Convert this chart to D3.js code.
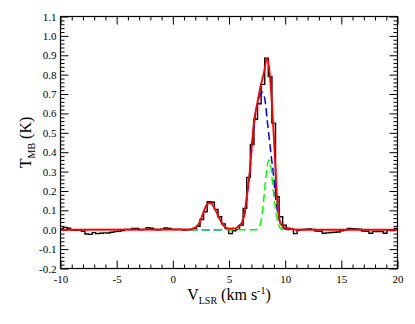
<!DOCTYPE html>
<html lang="en">
<head>
<meta charset="UTF-8">
<title>T_MB spectrum</title>
<script src="https://cdnjs.cloudflare.com/ajax/libs/d3/7.8.5/d3.min.js"></script>
<style>
    html, body { margin: 0; padding: 0; background: #fff; }
    svg text { font-family: "Liberation Serif", "Times New Roman", serif; fill: #000; }
</style>
</head>
<body>
<div id="chart"></div>
<script>
// observed spectrum: channel centres start at velStart, spaced by chanWidth (km/s)
const velStart = -9.9;
const chanWidth = 0.32;
const tmb = [
    0.005, 0.012, 0.008, 0.0, -0.003, -0.002, -0.008, -0.022, -0.024, -0.015,
    -0.02, -0.018, -0.016, -0.017, -0.013, -0.01, -0.008, -0.004, 0.002, 0.001,
    0.007, 0.006, 0.0, 0.002, 0.01, 0.008, 0.001, 0.0, 0.003, 0.009,
    0.007, 0.002, 0.001, 0.002, -0.001, 0.0, 0.002, 0.006, 0.018, 0.053,
    0.093, 0.144, 0.142, 0.105, 0.067, 0.03, 0.007, -0.02, -0.005, 0.002,
    0.024, 0.11, 0.27, 0.44, 0.57, 0.65, 0.75, 0.885, 0.79, 0.55,
    0.17, 0.067, 0.024, 0.008, 0.003, -0.02, -0.003, 0.001, 0.003, 0.004,
    0.002, -0.007, -0.008, -0.018, -0.016, -0.014, -0.013, -0.012, -0.005, 0.0,
    0.007, 0.005, 0.004, 0.003, -0.007, -0.008, -0.018, -0.01, -0.01, -0.009,
    -0.018, 0.0, -0.004, 0.007
];

// total fit (red) as [velocity, T]
const totalFit = [
    [-10, 0], [1.5, 0.001], [1.9, 0.008], [2.2, 0.022], [2.47, 0.05], [2.7, 0.085],
    [2.91, 0.118], [3.1, 0.134], [3.3, 0.139], [3.55, 0.127], [3.8, 0.10], [4.05, 0.07],
    [4.25, 0.046], [4.5, 0.022], [4.75, 0.01], [5.1, 0.005], [5.5, 0.007], [5.85, 0.016],
    [6.18, 0.04], [6.45, 0.11], [6.62, 0.19], [6.83, 0.29], [7.07, 0.46], [7.21, 0.55],
    [7.51, 0.65], [7.81, 0.74], [8.11, 0.81], [8.38, 0.885], [8.65, 0.79], [8.85, 0.62],
    [9.01, 0.46], [9.16, 0.29], [9.31, 0.13], [9.45, 0.065], [9.6, 0.032], [9.9, 0.013],
    [10.2, 0.005], [10.8, 0.001], [12, 0], [20, 0]
];

// broad component (blue dashed)
const broadComp = [
    [1.5, 0], [4.0, 0], [5.0, 0.004], [5.5, 0.01], [5.85, 0.02], [6.18, 0.04],
    [6.45, 0.1], [6.62, 0.18], [6.83, 0.28], [7.07, 0.45], [7.3, 0.57], [7.55, 0.65],
    [7.8, 0.70], [7.95, 0.71], [8.2, 0.67], [8.41, 0.56], [8.7, 0.41], [8.94, 0.29],
    [9.16, 0.16], [9.45, 0.055], [9.7, 0.018], [10.0, 0.004], [10.4, 0]
];

// narrow component (green dashed)
const narrowComp = [
    [1.5, 0], [7.4, 0], [7.7, 0.015], [7.95, 0.08], [8.15, 0.19], [8.3, 0.28],
    [8.45, 0.345], [8.55, 0.36], [8.7, 0.335], [8.85, 0.26], [9.0, 0.17], [9.15, 0.1],
    [9.3, 0.05], [9.5, 0.015], [9.7, 0.003], [10.3, 0]
];

const xTicks = [-10, -5, 0, 5, 10, 15, 20];
const yTicks = [-0.2, -0.1, 0.0, 0.1, 0.2, 0.3, 0.4, 0.5, 0.6, 0.7, 0.8, 0.9, 1.0, 1.1];

// layout
const margin = { top: 16.5, right: 17.5, bottom: 55.5, left: 60.5 };
const width = 415 - margin.left - margin.right;
const height = 324 - margin.top - margin.bottom;

const svg = d3.select("#chart")
    .append("svg")
    .attr("width", 415)
    .attr("height", 324);

const g = svg.append("g")
    .attr("transform", "translate(" + margin.left + "," + margin.top + ")");

const x = d3.scaleLinear().domain([-10, 20]).range([0, width]);
const y = d3.scaleLinear().domain([-0.2, 1.1]).range([height, 0]);

g.append("clipPath").attr("id", "plot-clip")
    .append("rect").attr("width", width).attr("height", height);

// minor ticks every 1 km/s and every 0.02 K
const xMinor = d3.range(-10, 20.001, 1).filter(v => v % 5 !== 0);
const yMinor = d3.range(0, 66).map(i => -0.2 + i * 0.02)
    .filter(v => Math.abs(v * 10 - Math.round(v * 10)) > 1e-6);

function styleAxis(sel) {
    sel.select(".domain").remove();
    sel.attr("font-family", null).attr("font-size", null);
    sel.selectAll("line").attr("stroke", "#000").attr("stroke-width", 1);
    sel.selectAll("text").style("font-size", "11px");
}

// bottom
g.append("g").attr("transform", "translate(0," + height + ")")
    .call(d3.axisBottom(x).tickValues(xTicks).tickSize(-8).tickPadding(7).tickFormat(d => String(d)))
    .call(styleAxis);
g.append("g").attr("transform", "translate(0," + height + ")")
    .call(d3.axisBottom(x).tickValues(xMinor).tickSize(-4).tickFormat(""))
    .call(styleAxis);
// top
g.append("g")
    .call(d3.axisTop(x).tickValues(xTicks).tickSize(-8).tickFormat(""))
    .call(styleAxis);
g.append("g")
    .call(d3.axisTop(x).tickValues(xMinor).tickSize(-4).tickFormat(""))
    .call(styleAxis);
// left
g.append("g")
    .call(d3.axisLeft(y).tickValues(yTicks).tickSize(-8).tickPadding(4).tickFormat(d => d.toFixed(1)))
    .call(styleAxis);
g.append("g")
    .call(d3.axisLeft(y).tickValues(yMinor).tickSize(-4).tickFormat(""))
    .call(styleAxis);
// right
g.append("g").attr("transform", "translate(" + width + ",0)")
    .call(d3.axisRight(y).tickValues(yTicks).tickSize(-8).tickFormat(""))
    .call(styleAxis);
g.append("g").attr("transform", "translate(" + width + ",0)")
    .call(d3.axisRight(y).tickValues(yMinor).tickSize(-4).tickFormat(""))
    .call(styleAxis);

const plot = g.append("g").attr("clip-path", "url(#plot-clip)");

// histogram steps from channel edges
const steps = tmb.map((t, i) => [velStart + i * chanWidth - chanWidth / 2, t]);
steps.push([velStart + (tmb.length - 1) * chanWidth + chanWidth / 2, tmb[tmb.length - 1]]);

const stepLine = d3.line().x(d => x(d[0])).y(d => y(d[1])).curve(d3.curveStepAfter);
const smoothLine = d3.line().x(d => x(d[0])).y(d => y(d[1])).curve(d3.curveMonotoneX);

plot.append("path").datum(steps)
    .attr("d", stepLine)
    .attr("fill", "none").attr("stroke", "#000").attr("stroke-width", 1.4);

plot.append("path").datum(broadComp)
    .attr("d", smoothLine)
    .attr("fill", "none").attr("stroke", "#0000ff").attr("stroke-width", 1.5)
    .attr("stroke-dasharray", "8,4");

plot.append("path").datum(narrowComp)
    .attr("d", smoothLine)
    .attr("fill", "none").attr("stroke", "#00ff00").attr("stroke-width", 1.5)
    .attr("stroke-dasharray", "8,4");

plot.append("path").datum(totalFit)
    .attr("d", smoothLine)
    .attr("fill", "none").attr("stroke", "#ff0000").attr("stroke-width", 1.9);

// frame
g.append("rect")
    .attr("width", width).attr("height", height)
    .attr("fill", "none").attr("stroke", "#000").attr("stroke-width", 1.2);

// axis titles
const xTitle = g.append("text")
    .attr("x", width / 2).attr("y", height + 31.5)
    .attr("text-anchor", "middle").style("font-size", "16px");
xTitle.append("tspan").text("V");
xTitle.append("tspan").style("font-size", "10px").attr("dy", 4).text("LSR");
xTitle.append("tspan").attr("dy", -4).text(" (km s");
xTitle.append("tspan").style("font-size", "10px").attr("dy", -6).text("-1");
xTitle.append("tspan").attr("dy", 6).text(")");

const yTitle = g.append("text")
    .attr("transform", "translate(" + (31 - margin.left) + "," + (height / 2) + ") rotate(-90)")
    .attr("text-anchor", "middle").style("font-size", "16px");
yTitle.append("tspan").text("T");
yTitle.append("tspan").style("font-size", "10px").attr("dy", 4).text("MB");
yTitle.append("tspan").attr("dy", -4).text(" (K)");
</script>
</body>
</html>
